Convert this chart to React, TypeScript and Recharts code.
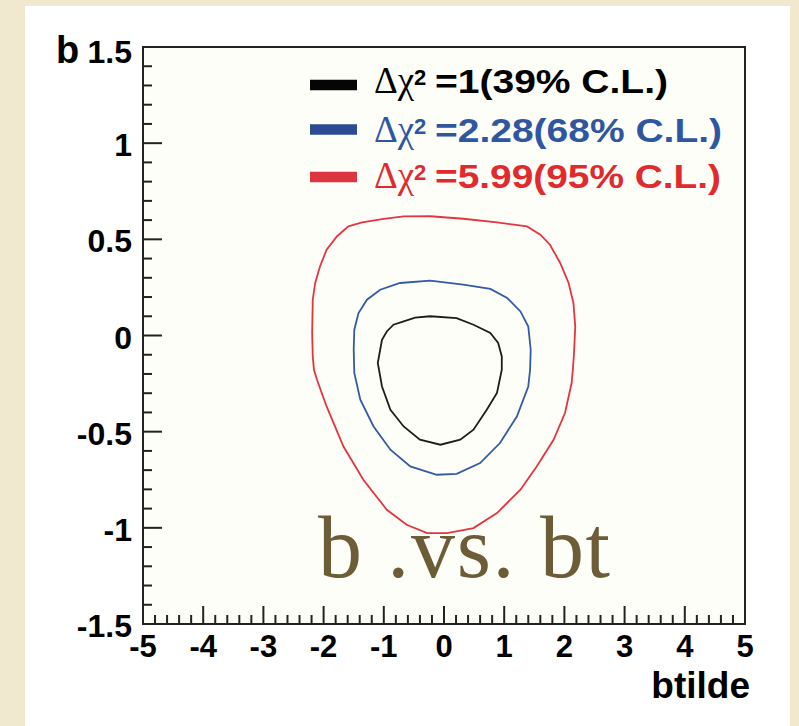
import React from 'react';
import { ScatterChart, Scatter, XAxis, YAxis, CartesianGrid, ReferenceArea } from 'recharts';

// Axis tick labels (major ticks)
const xTickLabels = ['-5', '-4', '-3', '-2', '-1', '0', '1', '2', '3', '4', '5'];
const yTickLabels = ['-1.5', '-1', '-0.5', '0', '0.5', '1', '1.5'];

// Δχ² = 1 contour (39% C.L.)
const cl39Btilde = [-0.23, 0.21, 0.49, 0.77, 0.9, 0.96, 0.96, 0.88, 0.71, 0.49, 0.27, -0.06, -0.4, -0.67, -0.89, -1.03, -1.1, -1.07, -1.03, -0.95, -0.84, -0.67, -0.48];
const cl39B = [0.1, 0.09, 0.056, 0.013, -0.039, -0.109, -0.178, -0.299, -0.386, -0.49, -0.542, -0.568, -0.542, -0.473, -0.386, -0.265, -0.143, -0.091, -0.022, 0.021, 0.056, 0.073, 0.093];

// Δχ² = 2.28 contour (68% C.L.)
const cl68Btilde = [-0.23, 0.32, 0.77, 1.05, 1.27, 1.4, 1.44, 1.43, 1.4, 1.21, 0.93, 0.6, 0.21, -0.12, -0.56, -0.89, -1.17, -1.39, -1.49, -1.5, -1.49, -1.42, -1.28, -1.06, -0.73];
const cl68B = [0.285, 0.264, 0.242, 0.195, 0.125, 0.047, -0.074, -0.178, -0.265, -0.421, -0.559, -0.663, -0.719, -0.724, -0.681, -0.594, -0.473, -0.334, -0.195, -0.074, 0.03, 0.117, 0.186, 0.238, 0.273];

// Δχ² = 5.99 contour (95% C.L.)
const cl95Btilde = [-1.59, -1.36, -1.0, -0.67, -0.23, 0.32, 0.88, 1.38, 1.6, 1.76, 1.93, 2.07, 2.15, 2.18, 2.16, 2.14, 2.12, 2.01, 1.82, 1.54, 1.27, 0.88, 0.49, 0.05, -0.28, -0.62, -0.95, -1.34, -1.67, -1.95, -2.11, -2.16, -2.18, -2.19, -2.18, -2.14, -2.06, -1.95, -1.78];
const cl95B = [0.567, 0.588, 0.606, 0.619, 0.62, 0.607, 0.588, 0.567, 0.524, 0.472, 0.377, 0.273, 0.169, 0.047, -0.091, -0.178, -0.247, -0.403, -0.542, -0.681, -0.802, -0.923, -1.001, -1.027, -1.027, -0.984, -0.906, -0.75, -0.577, -0.369, -0.23, -0.178, -0.109, 0.013, 0.186, 0.273, 0.359, 0.446, 0.515];

const AXIS = '#222222';
const SANS = '"Liberation Sans", Arial, Helvetica, sans-serif';
const SERIF = '"Liberation Serif", "Times New Roman", serif';

const closed = (xs: number[], ys: number[]) => {
  const pts = xs.map((x, i) => ({ x, y: ys[i] }));
  pts.push(pts[0]);
  return pts;
};

const series = [
  { key: 'cl39', head: '=1(39% C.L.)', line: '#1c1c1c', swatch: '#050505', text: '#000000', width: 233, data: closed(cl39Btilde, cl39B) },
  { key: 'cl68', head: '=2.28(68% C.L.)', line: '#3459a6', swatch: '#2c4b93', text: '#2f56a0', width: 287, data: closed(cl68Btilde, cl68B) },
  { key: 'cl95', head: '=5.99(95% C.L.)', line: '#e3343f', swatch: '#dc3540', text: '#e02a2e', width: 286, data: closed(cl95Btilde, cl95B) },
];

const round2 = (v: number) => Math.round(v * 100) / 100;

const xMajor = xTickLabels.map(Number);
const yMajor = yTickLabels.map(Number);

// major ticks every 1 with four minor subdivisions on x; every 0.5 with four on y
const withMinor = (majors: number[]) => {
  const out: number[] = [];
  for (let i = 0; i < majors.length; i++) {
    out.push(majors[i]);
    if (i < majors.length - 1) {
      const step = (majors[i + 1] - majors[i]) / 5;
      for (let k = 1; k < 5; k++) out.push(round2(majors[i] + k * step));
    }
  }
  return out;
};
const xTicks = withMinor(xMajor);
const yTicks = withMinor(yMajor);

const isMajor = (list: number[], v: number) => list.findIndex((m) => Math.abs(m - v) < 1e-6);

const XTick = (props: any) => {
  const { x, y, payload } = props;
  const idx = isMajor(xMajor, payload.value);
  const major = idx >= 0;
  return (
    <g>
      <line x1={x} x2={x} y1={y} y2={y - (major ? 18 : 9)} stroke={AXIS} strokeWidth={2} />
      {major && (
        <text x={x} y={y + 33} textAnchor="middle" fontFamily={SANS} fontWeight="bold" fontSize={31} fill="#000">
          {xTickLabels[idx]}
        </text>
      )}
    </g>
  );
};

const YTick = (props: any) => {
  const { x, y, payload } = props;
  const idx = isMajor(yMajor, payload.value);
  const major = idx >= 0;
  const top = idx === yMajor.length - 1;
  return (
    <g>
      <line x1={x} x2={x + (major ? 19 : 9)} y1={y} y2={y} stroke={AXIS} strokeWidth={2} />
      {major && (
        <text x={x - 11} y={y + (top ? 16 : 13)} textAnchor="end" fontFamily={SANS} fontWeight="bold" fontSize={32} fill="#000">
          {yTickLabels[idx]}
        </text>
      )}
    </g>
  );
};

const legendRows = [
  { base: 93.3, bar: 85 },
  { base: 141.7, bar: 129.5 },
  { base: 188.3, bar: 177 },
];

export default function App() {
  return (
    <div style={{ position: 'fixed', left: 0, top: 0, width: 799, height: 726, background: '#f1e8d0', overflow: 'hidden' }}>
      <div style={{ position: 'absolute', left: 25, top: 6, width: 765, height: 720, background: '#ffffff' }} />
      <div style={{ position: 'absolute', left: 0, top: 0 }}>
        <ScatterChart width={799} height={726} margin={{ top: 47, right: 54, bottom: 72, left: 103 }}>
          <CartesianGrid fill="#fefef9" horizontal={false} vertical={false} />
          <XAxis
            dataKey="x"
            type="number"
            domain={[-5, 5]}
            ticks={xTicks}
            interval={0}
            allowDataOverflow
            height={30}
            tickSize={0}
            tickMargin={0}
            tickLine={false}
            axisLine={false}
            tick={XTick}
          />
          <YAxis
            dataKey="y"
            type="number"
            domain={[-1.5, 1.5]}
            ticks={yTicks}
            interval={0}
            allowDataOverflow
            width={40}
            tickSize={0}
            tickMargin={0}
            tickLine={false}
            axisLine={false}
            tick={YTick}
          />
          {series.map((s) => (
            <Scatter
              key={s.key}
              name={s.key}
              data={s.data}
              fill={s.line}
              line={{ stroke: s.line, strokeWidth: 1.8 }}
              shape={() => <g />}
              isAnimationActive={false}
            />
          ))}
          <ReferenceArea x1={-5} x2={5} y1={-1.5} y2={1.5} fill="none" stroke={AXIS} strokeWidth={2} ifOverflow="visible" />

          {/* legend */}
          <g>
            {series.map((s, i) => {
              const r = legendRows[i];
              return (
                <g key={s.key}>
                  <rect x={310} y={r.bar - 5.25} width={47} height={10.5} fill={s.swatch} />
                  <text x={374} y={r.base} fontFamily={SERIF} fontSize={37} fill={s.text}>Δχ</text>
                  <text x={414} y={r.base - 8} fontFamily={SANS} fontWeight="bold" fontSize={22} fill={s.text}>2</text>
                  <text x={435} y={r.base} fontFamily={SANS} fontWeight="bold" fontSize={34} fill={s.text} textLength={s.width} lengthAdjust="spacingAndGlyphs">
                    {s.head}
                  </text>
                </g>
              );
            })}
          </g>

          {/* axis titles */}
          <text x={56} y={63} fontFamily={SANS} fontWeight="bold" fontSize={38} fill="#000">b</text>
          <text x={750} y={698} textAnchor="end" fontFamily={SANS} fontWeight="bold" fontSize={37} fill="#000">btilde</text>

          {/* caption */}
          <text x={318} y={577} fontFamily={SERIF} fontSize={88} fill="#6c5d38" textLength={292}>b .vs. bt</text>
        </ScatterChart>
      </div>
    </div>
  );
}
